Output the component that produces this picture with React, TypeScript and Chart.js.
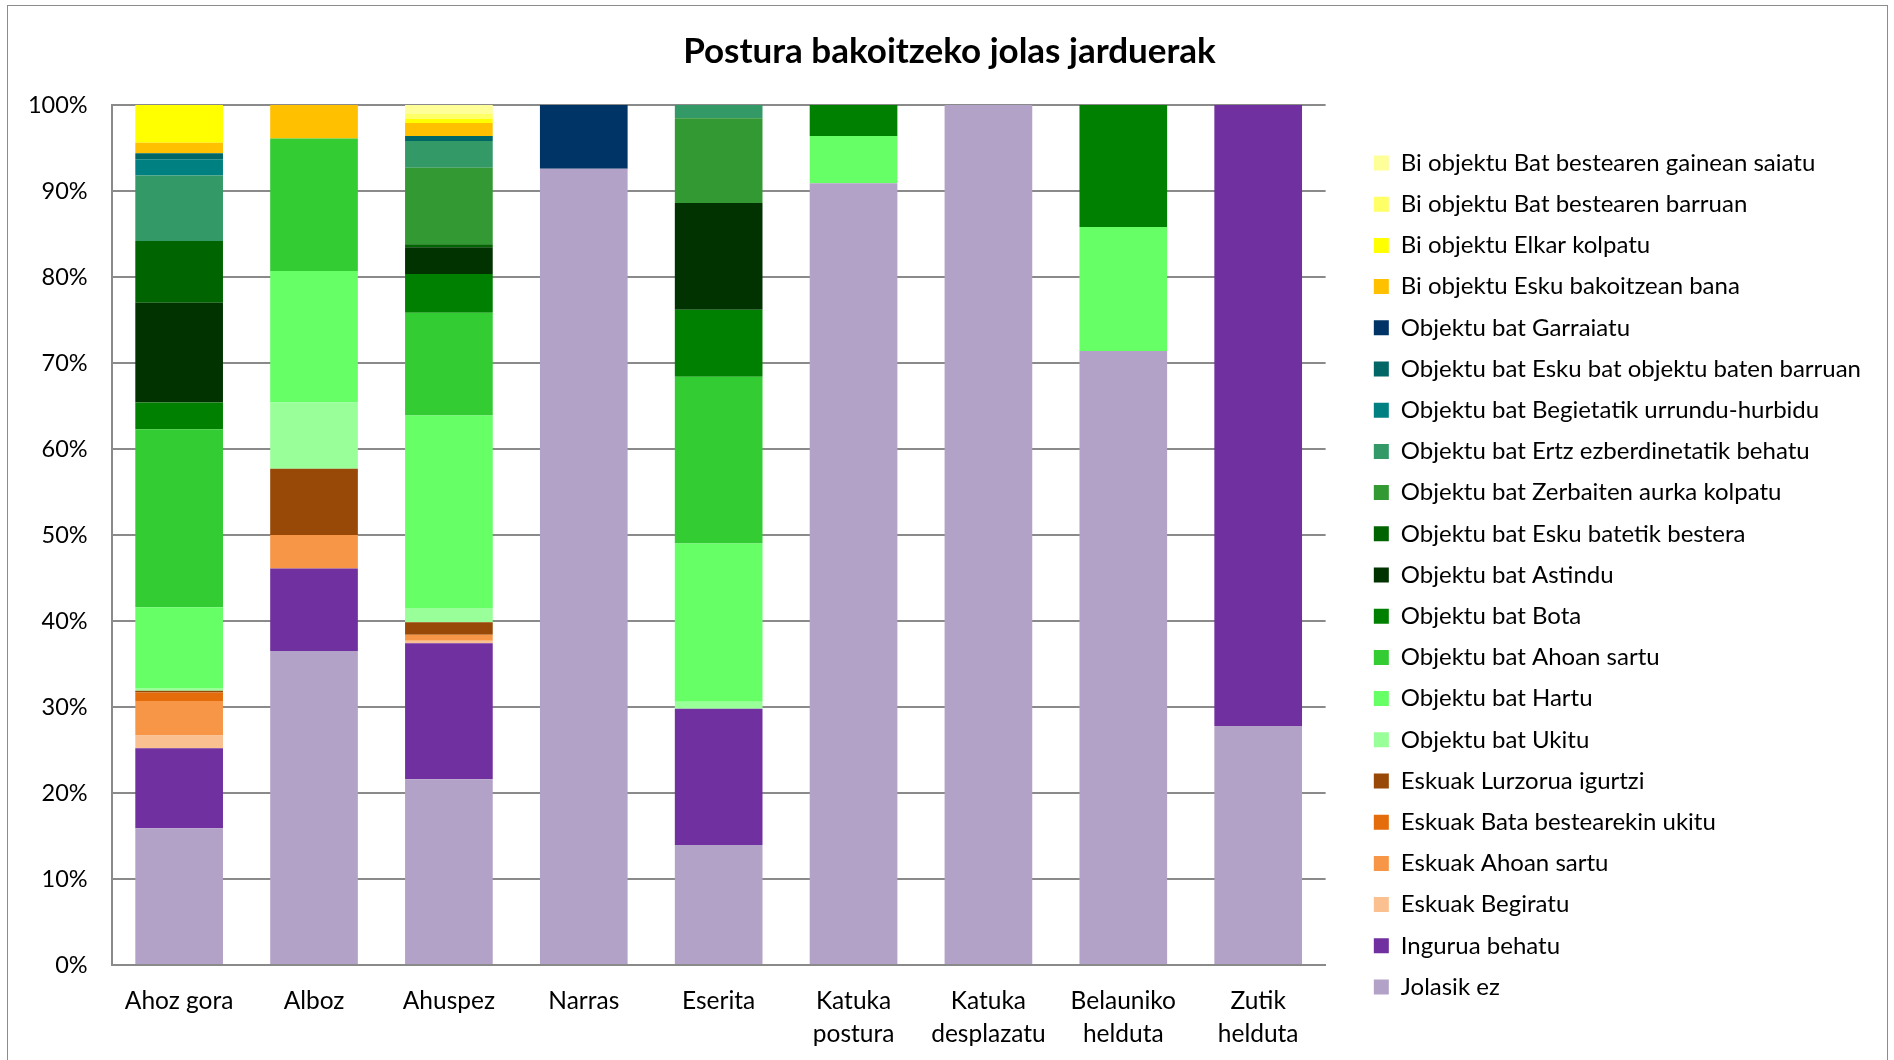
import React, { useEffect, useRef } from "react";
import { Chart, registerables } from "chart.js";

Chart.register(...registerables);

const categories: (string | string[])[] = [
  "Ahoz gora",
  "Alboz",
  "Ahuspez",
  "Narras",
  "Eserita",
  ["Katuka", "postura"],
  ["Katuka", "desplazatu"],
  ["Belauniko", "helduta"],
  ["Zutik", "helduta"],
];

const yTicks = [0, 10, 20, 30, 40, 50, 60, 70, 80, 90, 100];

// series (bottom to top of stack)
const jolasikEz = [15.9, 36.5, 21.6, 92.6, 13.95, 90.9, 100, 71.4, 27.8];
const inguruaBehatu = [9.3, 9.6, 15.8, 0, 15.85, 0, 0, 0, 72.2];
const eskuakBegiratu = [1.5, 0, 0.3, 0, 0, 0, 0, 0, 0];
const eskuakAhoanSartu = [4.0, 3.9, 0.7, 0, 0, 0, 0, 0, 0];
const eskuakBataBestearekin = [1.0, 0, 0, 0, 0, 0, 0, 0, 0];
const eskuakLurzorua = [0.2, 7.7, 1.45, 0, 0, 0, 0, 0, 0];
const objUkitu = [0.3, 7.7, 1.65, 0, 0.8, 0, 0, 0, 0];
const objHartu = [9.4, 15.3, 22.4, 0, 18.4, 5.5, 0, 14.4, 0];
const objAhoanSartu = [20.7, 15.4, 11.95, 0, 19.4, 0, 0, 0, 0];
const objBota = [3.1, 0, 4.5, 0, 7.8, 3.6, 0, 14.2, 0];
const objAstindu = [11.6, 0, 3.1, 0, 12.4, 0, 0, 0, 0];
const objEskuBatetik = [7.2, 0, 0.35, 0, 0, 0, 0, 0, 0];
const objZerbaiten = [0, 0, 8.9, 0, 9.85, 0, 0, 0, 0];
const objErtz = [7.6, 0, 3.1, 0, 1.55, 0, 0, 0, 0];
const objBegietatik = [1.9, 0, 0, 0, 0, 0, 0, 0, 0];
const objEskuBatObjektu = [0.7, 0, 0.6, 0, 0, 0, 0, 0, 0];
const objGarraiatu = [0, 0, 0, 7.4, 0, 0, 0, 0, 0];
const biEskuBakoitzean = [1.2, 3.9, 1.5, 0, 0, 0, 0, 0, 0];
const biElkarKolpatu = [4.4, 0, 0.5, 0, 0, 0, 0, 0, 0];
const biBarruan = [0, 0, 0.6, 0, 0, 0, 0, 0, 0];
const biGainean = [0, 0, 1.0, 0, 0, 0, 0, 0, 0];

const seriesNames = [
  "Jolasik ez",
  "Ingurua behatu",
  "Eskuak Begiratu",
  "Eskuak Ahoan sartu",
  "Eskuak Bata bestearekin ukitu",
  "Eskuak Lurzorua igurtzi",
  "Objektu bat Ukitu",
  "Objektu bat Hartu",
  "Objektu bat Ahoan sartu",
  "Objektu bat Bota",
  "Objektu bat Astindu",
  "Objektu bat Esku batetik bestera",
  "Objektu bat Zerbaiten aurka kolpatu",
  "Objektu bat Ertz ezberdinetatik behatu",
  "Objektu bat Begietatik urrundu-hurbidu",
  "Objektu bat Esku bat objektu baten barruan",
  "Objektu bat Garraiatu",
  "Bi objektu Esku bakoitzean bana",
  "Bi objektu Elkar kolpatu",
  "Bi objektu Bat bestearen barruan",
  "Bi objektu Bat bestearen gainean saiatu",
];

const seriesValues = [
  jolasikEz,
  inguruaBehatu,
  eskuakBegiratu,
  eskuakAhoanSartu,
  eskuakBataBestearekin,
  eskuakLurzorua,
  objUkitu,
  objHartu,
  objAhoanSartu,
  objBota,
  objAstindu,
  objEskuBatetik,
  objZerbaiten,
  objErtz,
  objBegietatik,
  objEskuBatObjektu,
  objGarraiatu,
  biEskuBakoitzean,
  biElkarKolpatu,
  biBarruan,
  biGainean,
];

const seriesColors = [
  "#B3A2C7",
  "#7030A0",
  "#FAC090",
  "#F79646",
  "#E46C0A",
  "#984807",
  "#99FF99",
  "#66FF66",
  "#33CC33",
  "#008000",
  "#003300",
  "#006400",
  "#339933",
  "#339966",
  "#008080",
  "#006666",
  "#003366",
  "#FFC000",
  "#FFFF00",
  "#FFFF66",
  "#FFFF99",
];

const CW = 1879;
const CH = 1054;

export default function App() {
  const ref = useRef<HTMLCanvasElement | null>(null);

  useEffect(() => {
    if (!ref.current) return;
    Chart.defaults.font.family = "Lato, 'Noto Sans', sans-serif";
    const chart = new Chart(ref.current, {
      type: "bar",
      data: {
        labels: categories,
        datasets: seriesNames.map((name, i) => ({
          label: name,
          data: seriesValues[i],
          backgroundColor: seriesColors[i],
          borderWidth: 0,
          barPercentage: 0.65,
          categoryPercentage: 1.0,
        })),
      },
      options: {
        responsive: false,
        animation: false,
        layout: { padding: { left: 20, right: 16, top: 0, bottom: 0 } },
        plugins: {
          title: {
            display: true,
            text: "Postura bakoitzeko jolas jarduerak",
            color: "#000",
            font: { size: 35, weight: "bold", lineHeight: 1.2 },
            padding: { top: 25, bottom: 32 },
          },
          legend: {
            position: "right",
            reverse: true,
            maxWidth: 700,
            title: {
              display: true,
              text: "",
              font: { size: 12, lineHeight: 1.2 },
              padding: { top: 69.6, bottom: 0 },
            },
            labels: {
              color: "#000",
              font: { size: 24 },
              boxWidth: 15,
              boxHeight: 15,
              padding: 17.2,
            },
          },
          tooltip: { enabled: false },
        },
        scales: {
          x: {
            stacked: true,
            grid: { display: false },
            border: { display: true, color: "#8a8a8a", width: 2 },
            ticks: {
              color: "#000",
              font: { size: 24.5, lineHeight: 1.347 },
              padding: 12,
              maxRotation: 0,
              autoSkip: false,
            },
            afterFit: (s: any) => {
              s.height = 95;
            },
          },
          y: {
            stacked: true,
            min: 0,
            max: 100,
            afterBuildTicks: (s: any) => {
              s.ticks = yTicks.map((v) => ({ value: v }));
            },
            grid: { color: "#8a8a8a", lineWidth: 2, drawTicks: false },
            border: { display: true, color: "#8a8a8a", width: 2 },
            ticks: {
              color: "#000",
              font: { size: 23.5 },
              padding: 24,
              callback: (v: any) => v + "%",
            },
            afterFit: (s: any) => {
              s.width = 83.7;
            },
          },
          y2: {
            position: "right",
            display: true,
            grid: { display: false, drawTicks: false },
            border: { display: false },
            ticks: { display: false },
            afterFit: (s: any) => {
              s.width = 31;
            },
          },
        },
      },
    } as any);
    return () => chart.destroy();
  }, []);

  return (
    <div
      style={{
        position: "absolute",
        left: 7,
        top: 5,
        width: CW,
        height: CH,
        borderTop: "1px solid #8c8c8c",
        borderLeft: "1px solid #8c8c8c",
        borderRight: "1px solid #8c8c8c",
        background: "#fff",
      }}
    >
      <canvas
        ref={ref}
        width={CW}
        height={CH}
        style={{ display: "block", width: CW, height: CH }}
      />
    </div>
  );
}
